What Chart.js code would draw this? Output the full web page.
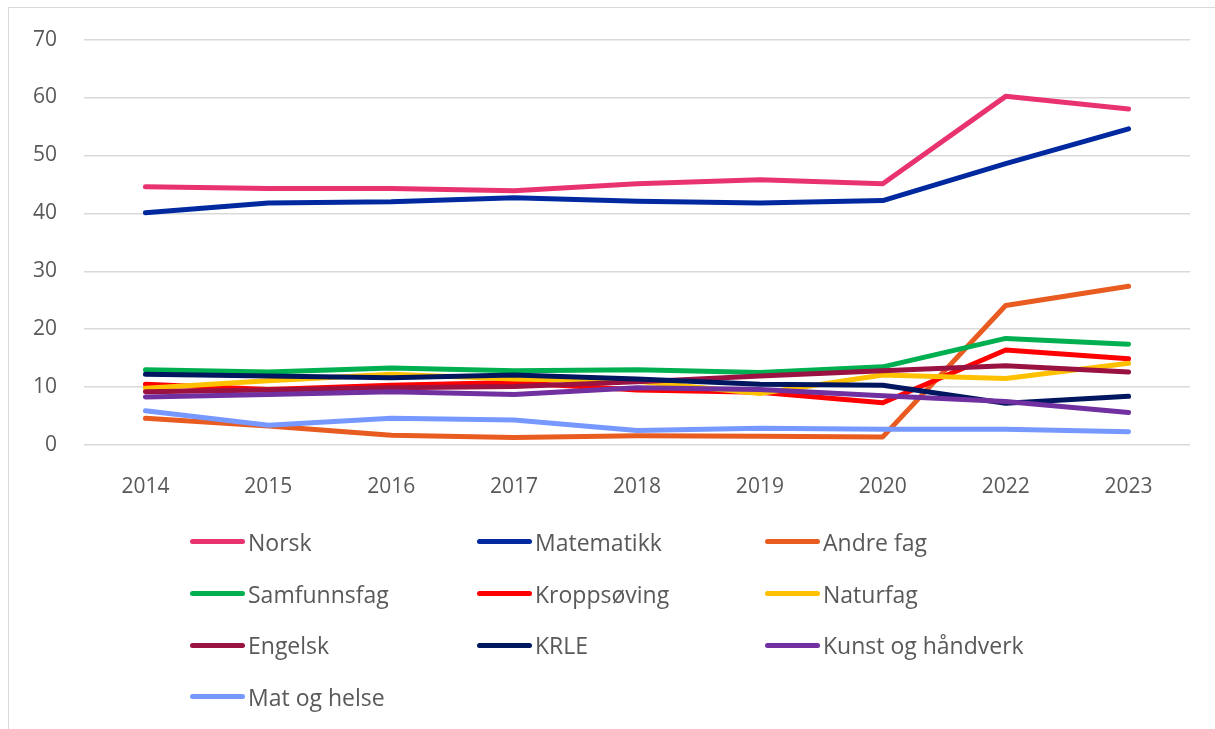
<!DOCTYPE html>
<html lang="no">
<head>
    <meta charset="UTF-8">
    <title>Fag over tid</title>
    <script src="https://cdn.jsdelivr.net/npm/chart.js"></script>
    <style>
        body {
            margin: 0;
            padding: 0;
            width: 1215px;
            height: 729px;
            overflow: hidden;
            background: #fff;
            font-family: "Open Sans", Arial, sans-serif;
        }
        .ramme {
            position: absolute;
            left: 8px;
            top: 7px;
            width: 1240px;
            height: 760px;
            border-left: 1.5px solid #d9d9d9;
            border-top: 1.5px solid #d9d9d9;
        }
        .graf {
            position: absolute;
            left: 0;
            top: 0;
            width: 1215px;
            height: 520px;
        }
        #legende {
            position: absolute;
            left: 190px;
            top: 516px;
            display: grid;
            grid-template-columns: 287px 288px 300px;
            grid-auto-rows: 51.7px;
            color: #595959;
            font-size: 23px;
        }
        .punkt {
            display: flex;
            align-items: center;
        }
        .strek {
            width: 55px;
            height: 5px;
            border-radius: 3px;
            margin-right: 3px;
        }
    </style>
</head>
<body>
    <div class="ramme"></div>
    <div class="graf"><canvas id="grafFag"></canvas></div>
    <div id="legende"></div>

    <script>
        const aar = ['2014', '2015', '2016', '2017', '2018', '2019', '2020', '2022', '2023'];

        const norsk        = [44.6, 44.3, 44.3, 43.9, 45.1, 45.8, 45.1, 60.2, 58.0];
        const matematikk   = [40.1, 41.8, 42.0, 42.7, 42.1, 41.8, 42.2, 48.6, 54.6];
        const andreFag     = [4.6, 3.3, 1.7, 1.3, 1.6, 1.5, 1.4, 24.1, 27.4];
        const samfunnsfag  = [13.0, 12.6, 13.3, 12.8, 13.0, 12.5, 13.5, 18.4, 17.4];
        const kroppsoving  = [10.5, 9.6, 10.3, 10.8, 9.5, 9.1, 7.3, 16.4, 14.9];
        const naturfag     = [9.8, 11.1, 12.2, 11.4, 11.0, 8.9, 12.1, 11.5, 14.1];
        const engelsk      = [9.2, 9.5, 9.9, 10.1, 10.9, 11.9, 12.8, 13.7, 12.6];
        const krle         = [12.2, 11.9, 11.6, 12.1, 11.4, 10.5, 10.3, 7.2, 8.4];
        const kunst        = [8.3, 8.7, 9.2, 8.7, 9.9, 9.6, 8.5, 7.5, 5.6];
        const matOgHelse   = [5.9, 3.4, 4.6, 4.3, 2.5, 2.9, 2.7, 2.7, 2.3];

        // rekkefølge = legenden, tegnes bakfra
        const serier = [
            { navn: 'Norsk', data: norsk, farge: '#e8336f' },
            { navn: 'Matematikk', data: matematikk, farge: '#0029a0' },
            { navn: 'Andre fag', data: andreFag, farge: '#e85c22' },
            { navn: 'Samfunnsfag', data: samfunnsfag, farge: '#00b050' },
            { navn: 'Kroppsøving', data: kroppsoving, farge: '#ff0000' },
            { navn: 'Naturfag', data: naturfag, farge: '#ffc000' },
            { navn: 'Engelsk', data: engelsk, farge: '#991242' },
            { navn: 'KRLE', data: krle, farge: '#00175f' },
            { navn: 'Kunst og håndverk', data: kunst, farge: '#7030a0' },
            { navn: 'Mat og helse', data: matOgHelse, farge: '#7799ff' }
        ];

        const datasets = serier.map((s, i) => ({
            label: s.navn,
            data: s.data,
            borderColor: s.farge,
            backgroundColor: s.farge,
            borderWidth: 5,
            borderCapStyle: 'round',
            borderJoinStyle: 'round',
            pointRadius: 0,
            tension: 0,
            order: serier.length - i
        }));

        new Chart(document.getElementById('grafFag'), {
            type: 'line',
            data: { labels: aar, datasets: datasets },
            options: {
                responsive: true,
                maintainAspectRatio: false,
                animation: false,
                layout: {
                    padding: { top: 39, right: 25, bottom: 0, left: 0 }
                },
                plugins: {
                    legend: { display: false },
                    tooltip: { enabled: false }
                },
                scales: {
                    x: {
                        offset: true,
                        grid: { display: false },
                        border: { display: false },
                        ticks: {
                            color: '#595959',
                            font: { family: '"Open Sans", Arial, sans-serif', size: 21 },
                            padding: 21,
                            maxRotation: 0
                        },
                        afterFit: (akse) => { akse.height = 75; }
                    },
                    y: {
                        min: 0,
                        max: 70,
                        grid: {
                            color: '#d9d9d9',
                            lineWidth: 1.5,
                            drawTicks: false
                        },
                        border: { display: false },
                        ticks: {
                            stepSize: 10,
                            color: '#595959',
                            font: { family: '"Open Sans", Arial, sans-serif', size: 21 },
                            padding: 27
                        },
                        afterFit: (akse) => { akse.width = 84; }
                    }
                }
            }
        });

        // egen legende i tre kolonner
        const legende = document.getElementById('legende');
        serier.forEach(s => {
            const punkt = document.createElement('div');
            punkt.className = 'punkt';
            const strek = document.createElement('span');
            strek.className = 'strek';
            strek.style.background = s.farge;
            const tekst = document.createElement('span');
            tekst.textContent = s.navn;
            punkt.appendChild(strek);
            punkt.appendChild(tekst);
            legende.appendChild(punkt);
        });
    </script>
</body>
</html>
